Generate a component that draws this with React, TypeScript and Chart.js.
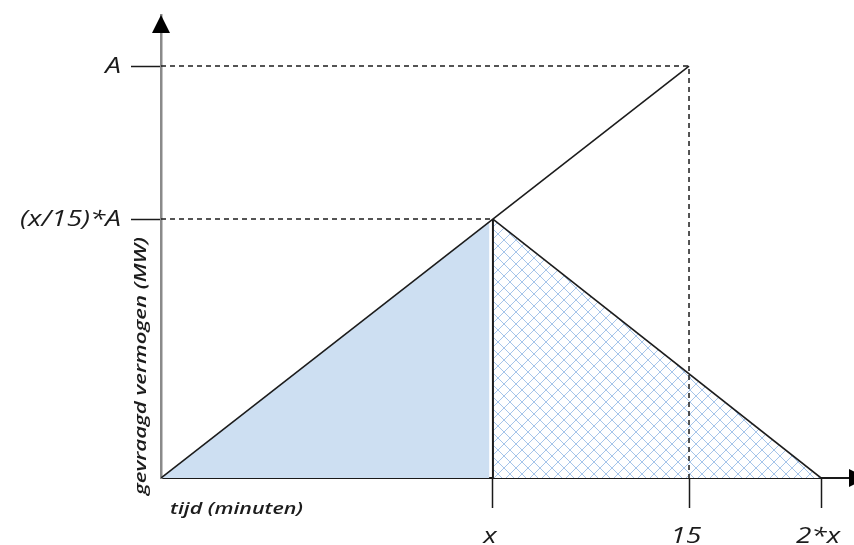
import React, { useEffect, useRef } from "react";
import { Chart, registerables } from "chart.js";

Chart.register(...registerables);

// ---- data ----
const xTickValues = [9.43, 15, 18.75];
const xTickLabels = ["x", "15", "2*x"];
const yTickValues = [9.43, 15];
const yTickLabels = ["(x/15)*A", "A"];

const riseLine = [
  { x: 0, y: 0 },
  { x: 15, y: 15 },
];
const fallLine = [
  { x: 9.43, y: 9.43 },
  { x: 18.75, y: 0 },
];
const dropLine = [
  { x: 9.43, y: 0 },
  { x: 9.43, y: 9.43 },
];
const solidArea = [
  { x: 0, y: 0 },
  { x: 9.33, y: 9.33 },
];
const guideA = [
  { x: 0, y: 15 },
  { x: 15, y: 15 },
  { x: 15, y: 0 },
];
const guideXA = [
  { x: 0, y: 9.43 },
  { x: 9.43, y: 9.43 },
];

const xAxisTitle = "tijd (minuten)";
const yAxisTitle = "gevraagd vermogen (MW)";

const X_MAX = 19.545;
const Y_MAX = 16.86;

const FONT = '"Open Sans", "Noto Sans", sans-serif';
const INK = "#1c1c1c";
const STRETCH = 1.27;

function makeHatch(): CanvasPattern | string {
  const s = 12;
  const p = document.createElement("canvas");
  p.width = s;
  p.height = s;
  const c = p.getContext("2d");
  if (!c) return "#dbe7f5";
  c.fillStyle = "#ffffff";
  c.fillRect(0, 0, s, s);
  c.strokeStyle = "#a6c5ea";
  c.lineWidth = 1;
  c.beginPath();
  for (const o of [-s, 0, s]) {
    c.moveTo(o - 2, -2);
    c.lineTo(o + s + 2, s + 2);
    c.moveTo(o + s + 2, -2);
    c.lineTo(o - 2, s + 2);
  }
  c.stroke();
  const pat = c.createPattern(p, "repeat");
  return pat || "#dbe7f5";
}

function fitText(ctx: CanvasRenderingContext2D, text: string, width: number) {
  const w = ctx.measureText(text).width;
  const f = w > 0 ? width / w : 1;
  ctx.save();
  ctx.scale(f, 1);
  ctx.fillText(text, 0, 0);
  ctx.restore();
}

function stretchText(ctx: CanvasRenderingContext2D, text: string, x: number, y: number) {
  ctx.save();
  ctx.translate(x, y);
  ctx.scale(STRETCH, 1);
  ctx.fillText(text, 0, 0);
  ctx.restore();
}

const decorPlugin = {
  id: "decor",
  afterDraw(chart: any) {
    const { ctx, chartArea } = chart;
    const xs = chart.scales.x;
    const ys = chart.scales.y;
    const ox = xs.getPixelForValue(0);
    const oy = ys.getPixelForValue(0);
    ctx.save();
    // up arrow
    ctx.fillStyle = "#000";
    ctx.beginPath();
    ctx.moveTo(ox, chartArea.top);
    ctx.lineTo(ox - 9, chartArea.top + 18);
    ctx.lineTo(ox + 9, chartArea.top + 18);
    ctx.closePath();
    ctx.fill();
    // right arrow
    ctx.beginPath();
    ctx.moveTo(chartArea.right + 18, oy);
    ctx.lineTo(chartArea.right, oy - 9);
    ctx.lineTo(chartArea.right, oy + 9);
    ctx.closePath();
    ctx.fill();

    ctx.fillStyle = INK;
    // tick labels, positioned by the scales
    ctx.font = `italic 22px ${FONT}`;
    ctx.textBaseline = "alphabetic";
    ctx.textAlign = "center";
    xs.ticks.forEach((t: any, i: number) => {
      stretchText(ctx, xTickLabels[i], xs.getPixelForValue(t.value) - 3, oy + 65);
    });
    ctx.textAlign = "right";
    ctx.textBaseline = "middle";
    ys.ticks.forEach((t: any, i: number) => {
      stretchText(ctx, yTickLabels[i], ox - 40, ys.getPixelForValue(t.value) + 1);
    });

    ctx.textAlign = "left";
    ctx.textBaseline = "alphabetic";
    // x axis title
    ctx.save();
    ctx.font = `italic 600 16px ${FONT}`;
    ctx.translate(ox + 9, oy + 36);
    fitText(ctx, xAxisTitle, 133);
    ctx.restore();
    // y axis title
    ctx.save();
    ctx.font = `italic 600 17px ${FONT}`;
    ctx.translate(ox - 15, oy + 17);
    ctx.rotate(-Math.PI / 2);
    fitText(ctx, yAxisTitle, 258);
    ctx.restore();
    ctx.restore();
  },
};

export default function App() {
  const ref = useRef<HTMLCanvasElement | null>(null);

  useEffect(() => {
    if (!ref.current) return;
    const hatch = makeHatch();
    const line = (data: any[], extra: any = {}) => ({
      data,
      showLine: true,
      pointRadius: 0,
      borderColor: INK,
      borderWidth: 1.6,
      fill: false,
      ...extra,
    });
    const chart = new Chart(ref.current, {
      type: "scatter",
      data: {
        datasets: [
          line(riseLine),
          line(fallLine),
          line(dropLine, { borderWidth: 2 }),
          line(guideA, { borderDash: [5, 4], borderWidth: 1.5 }),
          line(guideXA, { borderDash: [5, 4], borderWidth: 1.5 }),
          line(fallLine, {
            borderWidth: 0,
            borderColor: "rgba(0,0,0,0)",
            backgroundColor: hatch,
            fill: "origin",
          }),
          line(solidArea, {
            borderWidth: 0,
            borderColor: "rgba(0,0,0,0)",
            backgroundColor: "#cddff2",
            fill: "origin",
          }),
        ],
      },
      options: {
        responsive: false,
        animation: false,
        layout: { padding: { top: 15, right: 5, left: 0, bottom: 0 } },
        plugins: { legend: { display: false }, tooltip: { enabled: false } },
        scales: {
          x: {
            type: "linear",
            min: 0,
            max: X_MAX,
            z: 1,
            afterFit(scale: any) {
              scale.height = 67;
              scale.paddingLeft = 0;
              scale.paddingRight = 0;
            },
            afterBuildTicks(scale: any) {
              scale.ticks = xTickValues.map((v) => ({ value: v }));
            },
            border: { display: true, color: "#1a1a1a", width: 2 },
            grid: {
              display: true,
              drawOnChartArea: false,
              drawTicks: true,
              tickLength: 30,
              tickColor: "#1a1a1a",
              tickWidth: 1.5,
            },
            ticks: {
              display: false,
              autoSkip: false,
              maxRotation: 0,
              callback: (_v: any, i: number) => xTickLabels[i],
            },
          },
          y: {
            type: "linear",
            min: 0,
            max: Y_MAX,
            z: 1,
            afterFit(scale: any) {
              scale.width = 161;
              scale.paddingTop = 0;
              scale.paddingBottom = 0;
            },
            afterBuildTicks(scale: any) {
              scale.ticks = yTickValues.map((v) => ({ value: v }));
            },
            border: { display: true, color: "#8a8a8a", width: 2.5 },
            grid: {
              display: true,
              drawOnChartArea: false,
              drawTicks: true,
              tickLength: 30,
              tickColor: "#1a1a1a",
              tickWidth: 1.5,
            },
            ticks: {
              display: false,
              autoSkip: false,
              callback: (_v: any, i: number) => yTickLabels[i],
            },
          },
        },
      },
      plugins: [decorPlugin],
    } as any);
    return () => chart.destroy();
  }, []);

  return (
    <div style={{ position: "fixed", left: 0, top: 0, width: 854, height: 545, background: "#fff" }}>
      <canvas ref={ref} width={854} height={545} style={{ display: "block" }} />
    </div>
  );
}
